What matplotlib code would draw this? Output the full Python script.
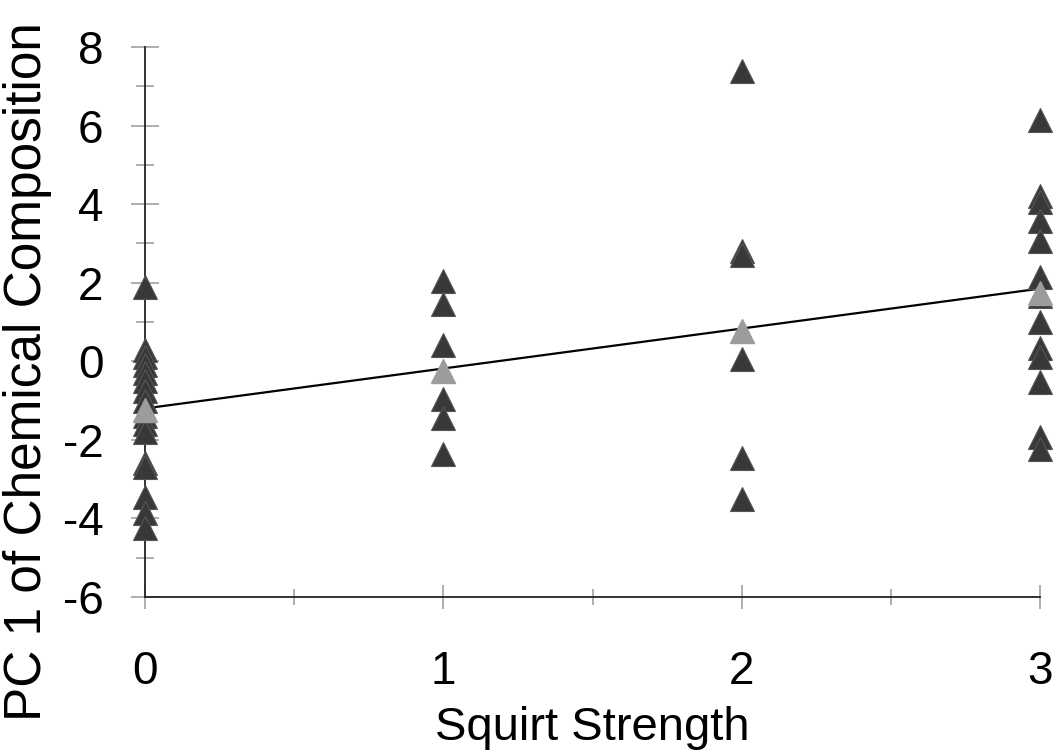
import matplotlib.pyplot as plt
from matplotlib.ticker import MultipleLocator

plt.rcParams['font.family'] = ['Liberation Sans', 'DejaVu Sans']
plt.rcParams['axes.unicode_minus'] = False

# individual observations, grouped by squirt strength
x0 = [0] * 16
y0 = [1.9, 0.3, 0.1, -0.1, -0.3, -0.5, -0.75, -1.0, -1.4, -1.6, -1.8,
      -2.6, -2.7, -3.45, -3.85, -4.25]
x1 = [1] * 6
y1 = [2.05, 1.45, 0.42, -0.95, -1.45, -2.35]
x2 = [2] * 6
y2 = [7.4, 2.8, 2.7, 0.05, -2.45, -3.5]
x3 = [3] * 13
y3 = [6.15, 4.2, 4.05, 3.58, 3.05, 2.15, 1.65, 1.0, 0.35, 0.1, -0.53,
      -1.92, -2.22]

# group means (grey markers) and trend line
mean_x = [0, 1, 2, 3]
mean_y = [-1.25, -0.25, 0.78, 1.75]
fit_x = [0, 3]
fit_y = [-1.2, 1.85]

xs = x0 + x1 + x2 + x3
ys = y0 + y1 + y2 + y3

fig = plt.figure(figsize=(10.57, 7.56), dpi=100)
ax = fig.add_axes([0.1372, 0.2103, 0.8467, 0.7275])

ax.plot(fit_x, fit_y, color='black', lw=1.6, zorder=2, clip_on=False)
ax.plot(xs, ys, linestyle='none', marker='^', ms=17, color='#383838',
        mec='#555555', mew=0.8, zorder=3, clip_on=False)
ax.plot(mean_x, mean_y, linestyle='none', marker='^', ms=17, color='#9c9c9c',
        mec='#9c9c9c', zorder=4, clip_on=False)

ax.set_xlim(0, 3)
ax.set_ylim(-6, 8)
ax.xaxis.set_major_locator(MultipleLocator(1))
ax.xaxis.set_minor_locator(MultipleLocator(0.5))
ax.yaxis.set_major_locator(MultipleLocator(2))
ax.yaxis.set_minor_locator(MultipleLocator(1))

for s in ['top', 'right']:
    ax.spines[s].set_visible(False)
for s in ['left', 'bottom']:
    ax.spines[s].set_color('#222222')
    ax.spines[s].set_linewidth(1.3)

ax.tick_params(axis='y', which='major', direction='inout', length=20,
               width=1.1, color='#999999', labelsize=33, pad=20)
ax.tick_params(axis='y', which='minor', direction='inout', length=13,
               width=1.1, color='#999999')
ax.tick_params(axis='x', which='major', direction='inout', length=17,
               width=1.1, color='#999999', labelsize=33, pad=30)
ax.tick_params(axis='x', which='minor', direction='inout', length=11,
               width=1.1, color='#999999')

ax.set_xlabel('Squirt Strength', fontsize=34, labelpad=8)
fig.text(28 / 1057, 1 - 372 / 756, 'PC 1 of Chemical Composition',
         rotation=90, ha='center', va='center', fontsize=37)

fig.savefig('out.png', dpi=100)
